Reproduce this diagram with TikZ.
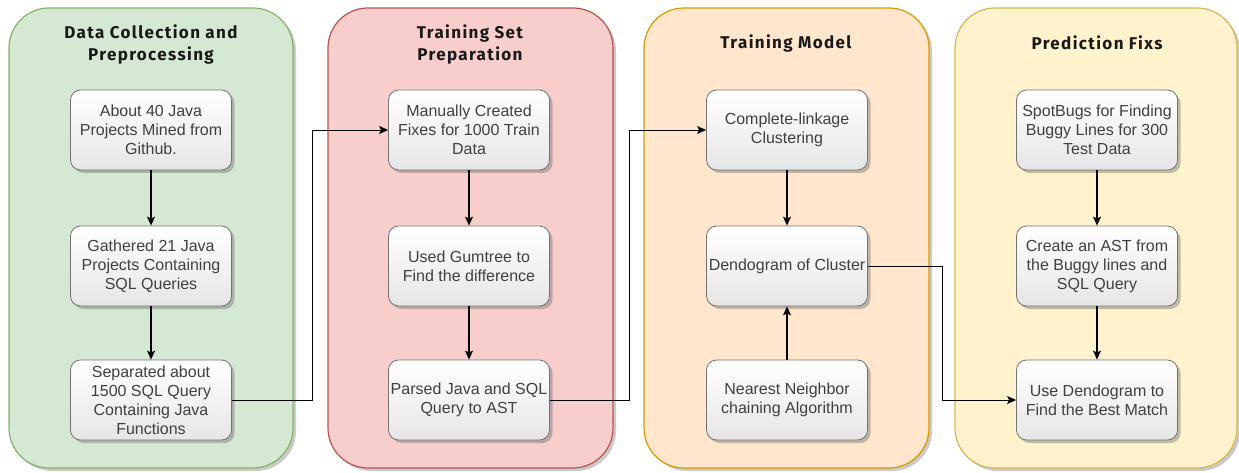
\documentclass[tikz,border=0pt]{standalone}
\usepackage{fontspec}
\setmainfont{Liberation Sans}
\newfontfamily\titlefont{Fira Sans}[LetterSpace=8]
\usetikzlibrary{arrows.meta,shadows}
\definecolor{boxtext}{HTML}{404040}
\definecolor{greenfill}{HTML}{D5E8D4}\definecolor{greenline}{HTML}{82B366}
\definecolor{redfill}{HTML}{F8CECC}\definecolor{redline}{HTML}{B85450}
\definecolor{orangefill}{HTML}{FFE6CC}\definecolor{orangeline}{HTML}{D79B00}
\definecolor{yellowfill}{HTML}{FFF2CC}\definecolor{yellowline}{HTML}{D6B656}
\tikzset{
  panel/.style={rounded corners=40pt, line width=1.2pt,
    drop shadow={shadow xshift=3pt, shadow yshift=-3pt, opacity=0.35, fill=black!60}},
  paneltitle/.style={font=\titlefont\bfseries\fontsize{17}{22}\selectfont, text=black!90, align=center},
  stepbox/.style={rounded corners=10pt, draw=black!55, line width=0.8pt,
    top color=white, bottom color=black!10,
    minimum width=161pt, minimum height=80pt, inner sep=0pt, align=center,
    text=boxtext, font=\fontsize{16}{19}\selectfont,
    drop shadow={shadow xshift=3pt, shadow yshift=-3pt, opacity=0.4, fill=black!60}},
  arr/.style={line width=1.1pt, -{Stealth[length=9pt,width=8pt,inset=2pt]}},
  link/.style={line width=0.9pt, -{Stealth[length=9pt,width=8pt,inset=2pt]}}
}
\begin{document}
\begin{tikzpicture}[x=1pt,y=-1pt]
\useasboundingbox (0,0) rectangle (1239,473);
% stage panels
\draw[panel, fill=greenfill, draw=greenline] (9,8) rectangle (293,468);
\draw[panel, fill=redfill, draw=redline] (328,8) rectangle (613,468);
\draw[panel, fill=orangefill, draw=orangeline] (644,8) rectangle (929,468);
\draw[panel, fill=yellowfill, draw=yellowline] (955,8) rectangle (1237,468);
% stage titles
\node[paneltitle] (t1) at (151,44) {Data Collection and\\Preprocessing};
\node[paneltitle] (t2) at (470,44) {Training Set\\Preparation};
\node[paneltitle] (t3) at (786,43) {Training Model};
\node[paneltitle] (t4) at (1097,43) {Prediction Fixs};
% data collection
\node[stepbox] (a1) at (151,130) {About 40 Java\\Projects Mined from\\Github.};
\node[stepbox] (a2) at (151,266) {Gathered 21 Java\\Projects Containing\\SQL Queries};
\node[stepbox] (a3) at (151,400) {Separated about\\1500 SQL Query\\Containing Java\\Functions};
% training set preparation
\node[stepbox] (b1) at (469,130) {Manually Created\\Fixes for 1000 Train\\Data};
\node[stepbox] (b2) at (469,266) {Used Gumtree to\\Find the difference};
\node[stepbox] (b3) at (469,400) {Parsed Java and SQL\\Query to AST};
% training model
\node[stepbox] (c1) at (787,130) {Complete-linkage\\Clustering};
\node[stepbox] (c2) at (787,266) {Dendogram of Cluster};
\node[stepbox] (c3) at (787,400) {Nearest Neighbor\\chaining Algorithm};
% prediction
\node[stepbox] (d1) at (1097,130) {SpotBugs for Finding\\Buggy Lines for 300\\Test Data};
\node[stepbox] (d2) at (1097,266) {Create an AST from\\the Buggy lines and\\SQL Query};
\node[stepbox] (d3) at (1097,400) {Use Dendogram to\\Find the Best Match};
% flow inside stages
\draw[arr] (a1) -- (a2);
\draw[arr] (a2) -- (a3);
\draw[arr] (b1) -- (b2);
\draw[arr] (b2) -- (b3);
\draw[arr] (c1) -- (c2);
\draw[arr] (c3) -- (c2);
\draw[arr] (d1) -- (d2);
\draw[arr] (d2) -- (d3);
% flow between stages
\coordinate (j1) at (312,130);
\coordinate (j2) at (629,130);
\coordinate (j3) at (942,400);
\draw[link] (a3.east) -| (j1) -- (b1.west);
\draw[link] (b3.east) -| (j2) -- (c1.west);
\draw[link] (c2.east) -| (j3) -- (d3.west);
\end{tikzpicture}
\end{document}
